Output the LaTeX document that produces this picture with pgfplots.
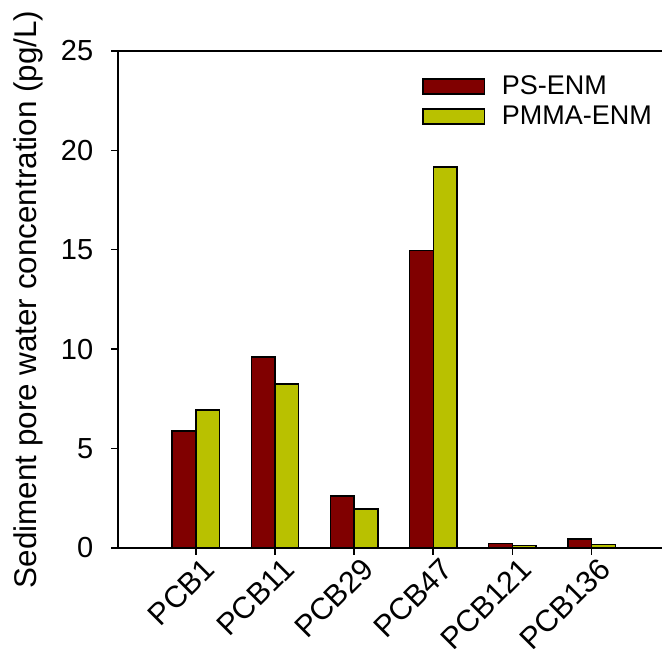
\documentclass[border=0pt]{standalone}
\usepackage{fontspec}
\setmainfont{Liberation Sans}
\usepackage{pgfplots}
\pgfplotsset{compat=1.18}
\definecolor{psred}{RGB}{128,0,0}
\definecolor{pmmagreen}{RGB}{185,193,0}
\begin{document}
\begin{tikzpicture}[font=\fontsize{14.5pt}{17pt}\selectfont]
\useasboundingbox (-59.15pt,-50.15pt) rectangle (272.35pt,273.85pt);
\begin{axis}[
  at={(0,0)}, anchor=south west,
  scale only axis, width=271.85pt, height=248.35pt,
  xmin=-0.98, xmax=5.89, ymin=0, ymax=25,
  axis x line*=box, axis y line*=left,
  xtick pos=bottom, ytick pos=left,
  axis line style={line width=1pt, black},
  major tick style={line width=0.8pt, black},
  tick align=outside, major tick length=3.5pt,
  ytick={0,5,10,15,20,25},
  xtick={0,1,2,3,4,5},
  xticklabels={PCB1,PCB11,PCB29,PCB47,PCB121,PCB136},
  x tick label style={xshift=3pt, yshift=1pt, rotate=45, anchor=north east, inner sep=1pt, font=\fontsize{15.2pt}{18pt}\selectfont},
  y tick label style={xshift=-5.5pt, font=\fontsize{14.5pt}{17pt}\selectfont},
  /pgf/number format/assume math mode=true,
  ylabel={Sediment pore water concentration (pg/L)},
  ylabel style={at={(axis description cs:-0.1385,0.5)}, anchor=south, inner sep=0pt,
    font=\fontsize{15.7pt}{18pt}\selectfont},
  legend style={draw=none, fill=none, at={(0.558,0.9517)}, anchor=north west,
    inner sep=0pt, row sep=4.3pt, nodes={inner sep=0pt},
    font=\fontsize{13.5pt}{16pt}\selectfont},
  legend cell align=left,
]
\addplot[ybar, bar width=0.3, bar shift=-0.15, fill=psred, draw=black, line width=0.75pt,
  legend image code/.code={\draw[fill=psred, draw=black, line width=0.75pt] (0pt,-3.75pt) rectangle (30.8pt,3.75pt); \path (39.15pt,0pt);}]
  coordinates {(0,5.87) (1,9.59) (2,2.60) (3,14.95) (4,0.22) (5,0.43)};
\addlegendentry{PS-ENM}
\addplot[ybar, bar width=0.3, bar shift=0.15, fill=pmmagreen, draw=black, line width=0.75pt,
  legend image code/.code={\draw[fill=pmmagreen, draw=black, line width=0.75pt] (0pt,-3.75pt) rectangle (30.8pt,3.75pt); \path (39.15pt,0pt);}]
  coordinates {(0,6.93) (1,8.23) (2,1.95) (3,19.17) (4,0.10) (5,0.17)};
\addlegendentry{PMMA-ENM}
\end{axis}
\end{tikzpicture}
\end{document}
